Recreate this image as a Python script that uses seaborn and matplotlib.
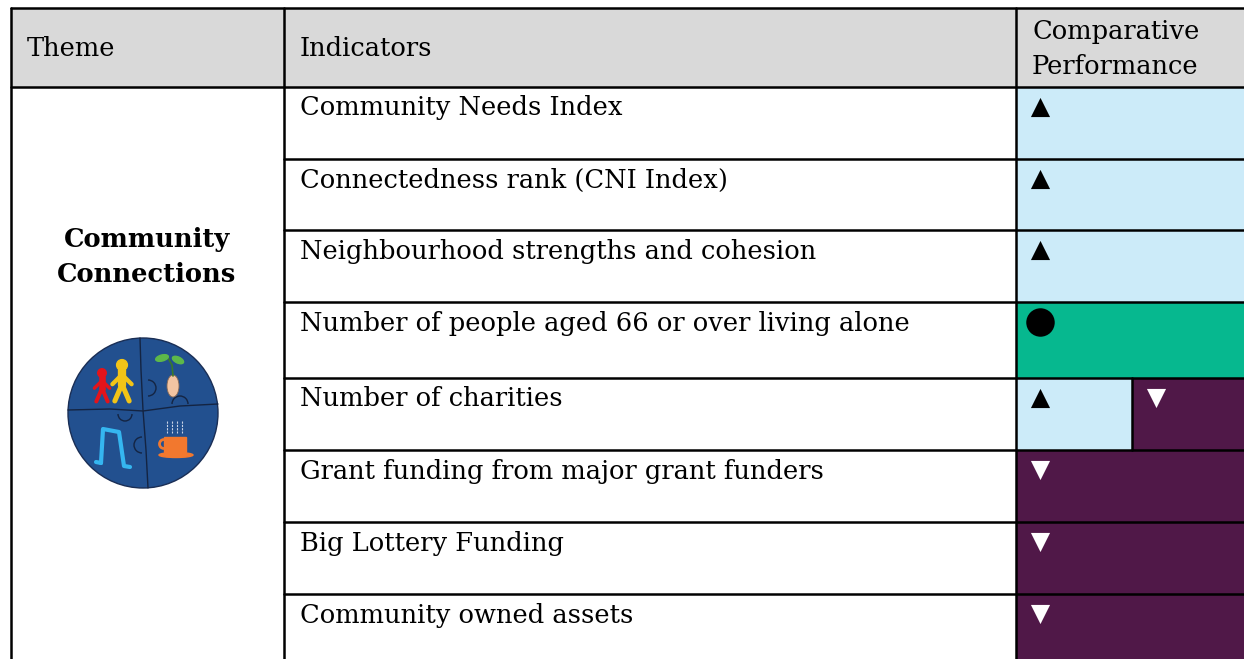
import numpy as np
import pandas as pd
import matplotlib
matplotlib.use("Agg")
import matplotlib.pyplot as plt
import seaborn as sns
from matplotlib.patches import Circle, Ellipse, Rectangle, Arc

# Table content
theme = "Community\nConnections"
headers = ["Theme", "Indicators", "Comparative\nPerformance"]
indicators = [
    "Community Needs Index",
    "Connectedness rank (CNI Index)",
    "Neighbourhood strengths and cohesion",
    "Number of people aged 66 or over living alone",
    "Number of charities",
    "Grant funding from major grant funders",
    "Big Lottery Funding",
    "Community owned assets",
]
# performance per indicator: one or two ratings (better / similar / worse)
performance = [
    ["better"], ["better"], ["better"], ["similar"],
    ["better", "worse"], ["worse"], ["worse"], ["worse"],
]

# styles
fill_colors = {"better": "#CCEBF9", "similar": "#06B88F", "worse": "#501848"}
marker_shapes = {"better": "^", "similar": "o", "worse": "v"}
marker_colors = {"better": "black", "similar": "black", "worse": "white"}
marker_sizes = {"better": 190, "similar": 420, "worse": 190}
header_gray = "#D9D9D9"

# layout in pixels
W, H = 1244, 659
col_x = [11, 284, 1016, 1250]
split_x = 1132
header_top, header_bot = 8, 87
row_edges = [87, 159, 230, 302, 378, 450, 522, 594, 680]

sns.set_theme(style="white")
plt.rcParams["font.family"] = ["DejaVu Serif"]
plt.rcParams["text.color"] = "black"

fig = plt.figure(figsize=(W / 100, H / 100), dpi=100)
ax = fig.add_axes([0, 0, 1, 1])

# header background
ax.barh(y=(header_top + header_bot) / 2, width=col_x[3] - col_x[0],
        height=header_bot - header_top, left=col_x[0], color=header_gray,
        linewidth=0, zorder=0)

# coloured performance cells
rows = []
for i, ratings in enumerate(performance):
    top, bot = row_edges[i], row_edges[i + 1]
    if len(ratings) == 1:
        lefts, rights = [col_x[2]], [col_x[3]]
    else:
        lefts, rights = [col_x[2], split_x], [split_x, col_x[3]]
    for r, l, rr in zip(ratings, lefts, rights):
        ax.barh(y=(top + bot) / 2, width=rr - l, height=bot - top, left=l,
                color=fill_colors[r], linewidth=0, zorder=0)
        rows.append({"x": l + 24, "y": top + 20, "rating": r})

marks = pd.DataFrame(rows)
for r, grp in marks.groupby("rating"):
    sns.scatterplot(data=grp, x="x", y="y", marker=marker_shapes[r],
                    color=marker_colors[r], s=marker_sizes[r], linewidth=0,
                    ax=ax, zorder=5, legend=False)
ax.set_xlim(0, W)
ax.set_ylim(H, 0)
ax.axis("off")

# grid lines
lw = 1.8
ax.plot([col_x[0], col_x[3]], [header_top, header_top], color="black", lw=lw)
ax.plot([col_x[0], col_x[3]], [header_bot, header_bot], color="black", lw=lw)
for y in row_edges[1:-1]:
    ax.plot([col_x[1], col_x[3]], [y, y], color="black", lw=lw)
for x in col_x[:3]:
    ax.plot([x, x], [header_top, H + 5], color="black", lw=lw)
ax.plot([split_x, split_x], [row_edges[4], row_edges[5]], color="black", lw=lw)

# header text
fs = 18.5
ax.text(col_x[0] + 16, (header_top + header_bot) / 2 + 1, headers[0],
        fontsize=fs, va="center", ha="left")
ax.text(col_x[1] + 16, (header_top + header_bot) / 2 + 1, headers[1],
        fontsize=fs, va="center", ha="left")
ax.text(col_x[2] + 16, (header_top + header_bot) / 2 + 1, headers[2],
        fontsize=fs, va="center", ha="left", linespacing=1.5)

# indicator text
for i, name in enumerate(indicators):
    ax.text(col_x[1] + 16, row_edges[i] + 21, name, fontsize=fs,
            va="center", ha="left")

# theme name
ax.text(147, 257, theme, fontsize=fs, fontweight="bold", ha="center",
        va="center", linespacing=1.45)

# logo: four puzzle pieces in a circle
cx, cy, rad = 143, 413, 75
edge = "#142442"
ax.add_patch(Circle((cx, cy), rad, facecolor="#22508F", edgecolor="#1A2E55",
                    lw=1, zorder=2))
ax.plot([140, 141, 143, 146, 148], [338, 370, 410, 450, 488], color=edge,
        lw=1, zorder=3)
ax.plot([68, 110, 143, 180, 218], [410, 409, 411, 406, 404], color=edge,
        lw=1, zorder=3)
ax.add_patch(Arc((148, 388), 16, 16, theta1=-90, theta2=90, color=edge,
                 lw=1, zorder=3))
ax.add_patch(Arc((125, 414), 14, 14, theta1=0, theta2=180, color=edge,
                 lw=1, zorder=3))
ax.add_patch(Arc((142, 445), 16, 16, theta1=90, theta2=270, color=edge,
                 lw=1, zorder=3))
ax.add_patch(Arc((180, 404), 16, 16, theta1=180, theta2=360, color=edge,
                 lw=1, zorder=3))


def person(x0, y0, scale, color):
    ax.add_patch(Circle((x0, y0), 4.5 * scale, color=color, zorder=4))
    ax.plot([x0, x0], [y0 + 4 * scale, y0 + 17 * scale], color=color,
            lw=5 * scale, solid_capstyle="round", zorder=4)
    ax.plot([x0 - 8 * scale, x0, x0 + 8 * scale],
            [y0 + 16 * scale, y0 + 8 * scale, y0 + 16 * scale],
            color=color, lw=2.6 * scale, solid_capstyle="round", zorder=4)
    ax.plot([x0 - 6 * scale, x0, x0 + 6 * scale],
            [y0 + 30 * scale, y0 + 16 * scale, y0 + 30 * scale],
            color=color, lw=3 * scale, solid_capstyle="round", zorder=4)


person(102, 373, 0.95, "#E3141B")
person(122, 365, 1.2, "#F2C417")

# sprout
ax.add_patch(Ellipse((173, 386), 12, 22, color="#F2C4A2", ec="#8A6A55",
                     lw=0.6, zorder=4))
ax.plot([173, 172, 168], [376, 365, 358], color="#3A7A2A", lw=1.2, zorder=4)
ax.add_patch(Ellipse((162, 358), 13, 6, angle=-15, color="#5DB84A", zorder=4))
ax.add_patch(Ellipse((178, 360), 12, 6, angle=25, color="#5DB84A", zorder=4))

# music note
ax.plot([101, 103, 119, 124, 130], [463, 429, 432, 466, 467], color="#35B6F0",
        lw=3, solid_joinstyle="round", zorder=4)
ax.plot([101, 96], [463, 462], color="#35B6F0", lw=3, zorder=4)

# cup
ax.add_patch(Rectangle((164, 437), 22, 15, color="#F2782E", zorder=4))
ax.add_patch(Ellipse((176, 455), 34, 5, color="#F2782E", zorder=4))
ax.add_patch(Arc((164, 444), 9, 9, theta1=90, theta2=270, color="#F2782E",
                 lw=2, zorder=4))
for sx in [167, 172, 177, 182]:
    ax.plot([sx, sx], [421, 433], color="#C9D3E6", lw=0.8, ls=(0, (2, 1)),
            zorder=4)

fig.savefig("out.png", dpi=100)
